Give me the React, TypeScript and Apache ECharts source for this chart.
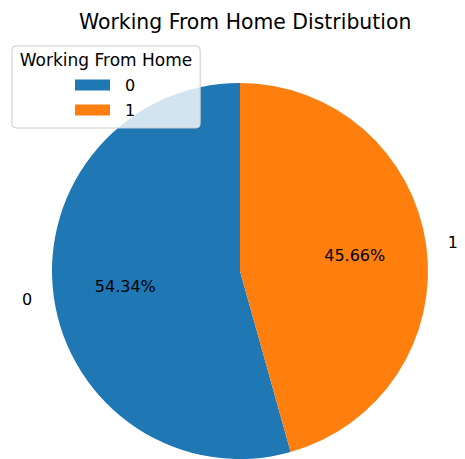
import React, { useEffect, useRef } from "react";
import * as echarts from "echarts";

const categories = ["0", "1"];
const values = [54.34, 45.66];
const colors = ["#1f77b4", "#ff7f0e"];
const chartTitle = "Working From Home Distribution";
const legendTitle = "Working From Home";

export default function App() {
  const ref = useRef<HTMLDivElement>(null);
  useEffect(() => {
    if (!ref.current) return;
    const chart = echarts.init(ref.current, undefined, { renderer: "svg" });
    const font = "DejaVu Sans";
    const R = 188;
    const cx = 240;
    const cy = 271;
    const data = categories.map((c, i) => ({ name: c, value: values[i] }));
    const transparent = { color: "rgba(0,0,0,0)" };
    chart.setOption({
      animation: false,
      textStyle: { fontFamily: font },
      title: {
        text: chartTitle,
        left: 74,
        top: 7,
        textStyle: { fontFamily: font, fontSize: 20.4, fontWeight: "normal", color: "#000" },
      },
      legend: {
        orient: "vertical",
        left: 12,
        top: 46,
        padding: [31, 65, 10, 63],
        itemWidth: 35,
        itemHeight: 11,
        itemGap: 9,
        icon: "rect",
        selectedMode: false,
        backgroundColor: "rgba(255,255,255,0.8)",
        borderColor: "#cccccc",
        borderWidth: 1,
        borderRadius: 4,
        textStyle: { fontFamily: font, fontSize: 16, color: "#000", padding: [0, 0, 0, 10] },
        data: categories.map((c, i) => ({ name: c, itemStyle: { color: colors[i] } })),
        z: 5,
      },
      graphic: [
        {
          type: "text",
          x: 12 + 188 / 2,
          y: 60,
          z: 10,
          style: {
            text: legendTitle,
            font: `17px '${font}'`,
            fill: "#000",
            textAlign: "center",
            textVerticalAlign: "middle",
          },
        },
      ],
      series: [
        {
          type: "pie",
          name: "main",
          radius: R,
          center: [cx, cy],
          startAngle: 90,
          clockwise: false,
          silent: true,
          label: { show: false },
          labelLine: { show: false },
          itemStyle: { color: (p: any) => colors[p.dataIndex] },
          data,
          z: 2,
        },
        {
          type: "pie",
          name: "pct",
          radius: R * 1.2,
          center: [cx, cy],
          startAngle: 90,
          clockwise: false,
          silent: true,
          itemStyle: transparent,
          label: {
            show: true,
            position: "inside",
            rotate: 0,
            fontFamily: font,
            fontSize: 16,
            color: "#000",
            formatter: (p: any) => p.percent.toFixed(2) + "%",
          },
          labelLine: { show: false },
          data,
          z: 3,
        },
        {
          type: "pie",
          name: "names",
          radius: R * 2.2,
          center: [cx, cy],
          startAngle: 90,
          clockwise: false,
          silent: true,
          itemStyle: transparent,
          label: {
            show: true,
            position: "inside",
            rotate: 0,
            fontFamily: font,
            fontSize: 16,
            color: "#000",
            formatter: "{b}",
          },
          labelLine: { show: false },
          data: data.map((d, i) => ({
            ...d,
            label: { offset: [i === 0 ? -5 : 5, 0] },
          })),
          z: 3,
        },
      ],
    });
    return () => chart.dispose();
  }, []);
  return (
    <div
      ref={ref}
      style={{ position: "fixed", left: 0, top: 0, width: 465, height: 459, background: "#fff" }}
    />
  );
}
